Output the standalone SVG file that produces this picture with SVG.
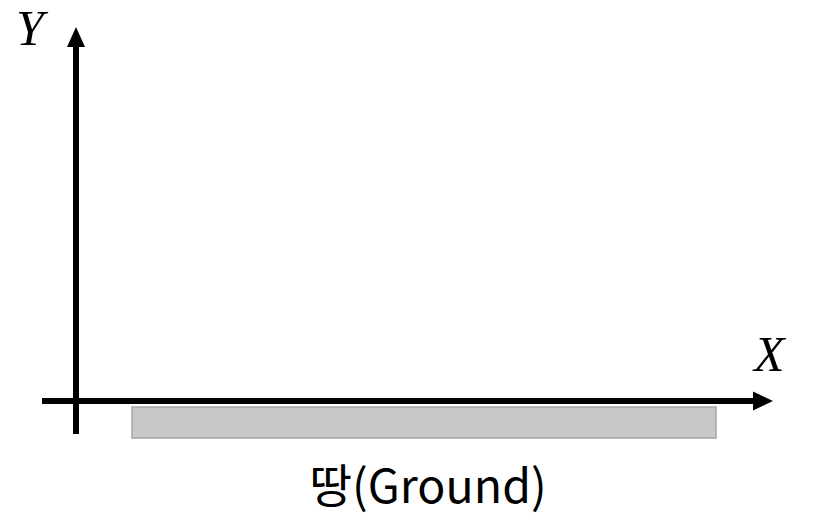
<svg xmlns="http://www.w3.org/2000/svg" width="822" height="530" viewBox="0 0 822 530">
<style>
.axis{stroke:#000;stroke-width:6;fill:none}
.lbl{font-family:"Liberation Serif",serif;font-style:italic;font-size:50px;fill:#000}
.gtext{font-family:"Noto Sans CJK KR","Noto Sans",sans-serif;font-size:46.5px;fill:#000}
</style>
<rect width="822" height="530" fill="#fff"/>
<g id="ground">
<rect x="132" y="407" width="584" height="31" fill="#c8c8c8" stroke="#a6a6a6" stroke-width="1.5"/>
<text class="gtext" x="428" y="503" text-anchor="middle">땅(Ground)</text>
</g>
<g id="connectors">
<line class="axis" x1="76" y1="434" x2="76" y2="44"/>
<polygon points="76,27 67,47 85,47" fill="#000"/>
<line class="axis" x1="42" y1="401" x2="755" y2="401"/>
<polygon points="773,401 753,391.5 753,410.5" fill="#000"/>
</g>
<g id="y-label"><text class="lbl" x="16" y="45">Y</text></g>
<g id="x-label"><text class="lbl" x="754" y="371">X</text></g>
</svg>
